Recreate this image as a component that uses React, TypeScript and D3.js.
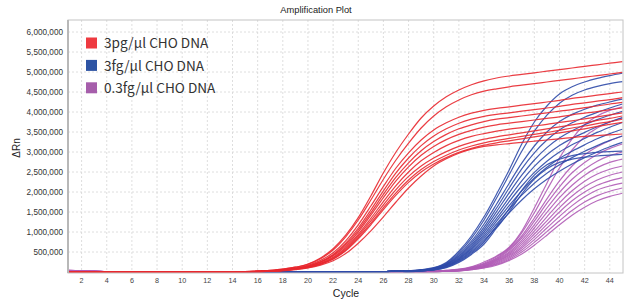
import * as d3 from "d3";
import { useEffect } from "react";

// qPCR cycles
const cycles = [1, 2, 3, 4, 5, 6, 7, 8, 9, 10, 11, 12, 13, 14, 15, 16, 17, 18, 19, 20, 21, 22, 23,
  24, 25, 26, 27, 28, 29, 30, 31, 32, 33, 34, 35, 36, 37, 38, 39, 40, 41, 42, 43, 44, 45];

// ΔRn per cycle, in units of 10,000
const redSeries = [
  [0, 0, 0, 0, 0, 0, 0, 0, 0, 0, 0, 0, 0, 0, 1, 2, 4, 7, 12, 20, 35, 58, 92, 136, 190, 248, 300, 345, 385, 415, 438, 455, 468, 478, 485, 490, 494, 498, 502, 506, 510, 514, 518, 522, 526],
  [0, 0, 0, 0, 0, 0, 0, 0, 0, 0, 0, 0, 0, 0, 1, 2, 4, 7, 12, 19, 33, 55, 88, 130, 180, 232, 280, 322, 360, 390, 413, 430, 443, 452, 458, 463, 467, 471, 475, 479, 483, 487, 491, 495, 499],
  [0, 0, 0, 0, 0, 0, 0, 0, 0, 0, 0, 0, 0, 0, 1, 2, 3, 6, 10, 17, 29, 48, 78, 118, 165, 214, 260, 298, 330, 355, 373, 387, 397, 404, 409, 413, 417, 421, 425, 429, 434, 438, 442, 446, 450],
  [0, 0, 0, 0, 0, 0, 0, 0, 0, 0, 0, 0, 0, 0, 1, 2, 3, 5, 9, 15, 26, 44, 72, 110, 155, 203, 248, 285, 316, 340, 358, 372, 382, 389, 394, 398, 402, 406, 410, 414, 419, 423, 427, 431, 436],
  [0, 0, 0, 0, 0, 0, 0, 0, 0, 0, 0, 0, 0, 0, 1, 2, 3, 5, 9, 15, 25, 42, 69, 105, 148, 194, 237, 273, 303, 326, 344, 358, 368, 376, 382, 386, 390, 394, 398, 402, 406, 411, 415, 420, 424],
  [0, 0, 0, 0, 0, 0, 0, 0, 0, 0, 0, 0, 0, 0, 1, 1, 3, 5, 8, 14, 24, 40, 65, 100, 142, 186, 228, 263, 292, 314, 331, 344, 354, 362, 368, 372, 376, 380, 384, 388, 393, 397, 401, 406, 410],
  [0, 0, 0, 0, 0, 0, 0, 0, 0, 0, 0, 0, 0, 0, 1, 1, 2, 4, 8, 13, 22, 37, 61, 94, 134, 176, 216, 250, 278, 299, 316, 329, 339, 346, 352, 357, 361, 365, 369, 374, 378, 383, 388, 393, 398],
  [0, 0, 0, 0, 0, 0, 0, 0, 0, 0, 0, 0, 0, 0, 1, 1, 2, 4, 7, 12, 21, 35, 58, 90, 128, 168, 206, 239, 265, 285, 301, 314, 324, 332, 338, 343, 348, 353, 358, 363, 368, 373, 379, 384, 390],
  [0, 0, 0, 0, 0, 0, 0, 0, 0, 0, 0, 0, 0, 0, 1, 1, 2, 4, 7, 12, 20, 33, 55, 86, 122, 161, 198, 230, 256, 276, 292, 305, 315, 323, 329, 334, 339, 344, 349, 354, 360, 365, 371, 376, 382],
  [0, 0, 0, 0, 0, 0, 0, 0, 0, 0, 0, 0, 0, 0, 1, 1, 2, 4, 7, 11, 19, 32, 53, 83, 118, 156, 192, 224, 250, 270, 286, 299, 309, 317, 323, 328, 333, 338, 343, 348, 353, 358, 364, 369, 374],
  [0, 0, 0, 0, 0, 0, 0, 0, 0, 0, 0, 0, 0, 0, 1, 1, 2, 3, 6, 10, 17, 28, 46, 72, 103, 138, 175, 210, 240, 265, 283, 297, 307, 314, 318, 321, 324, 327, 330, 333, 336, 339, 341, 343, 345],
];

const blueSeries = [
  [1, 1, 1, 0, 0, 0, 0, 0, 0, 0, 0, 0, 0, 0, 0, 0, 0, 0, 0, 1, 1, 1, 1, 1, 1, 1, 2, 3, 6, 11, 24, 52, 90, 138, 195, 255, 320, 375, 415, 445, 463, 475, 484, 491, 497],
  [1, 1, 1, 0, 0, 0, 0, 0, 0, 0, 0, 0, 0, 0, 0, 0, 0, 0, 0, 1, 1, 1, 1, 1, 1, 1, 2, 3, 5, 10, 22, 48, 84, 130, 185, 243, 302, 352, 392, 422, 442, 455, 464, 471, 476],
  [1, 1, 1, 0, 0, 0, 0, 0, 0, 0, 0, 0, 0, 0, 0, 0, 0, 0, 0, 1, 1, 1, 1, 1, 1, 1, 2, 2, 5, 9, 20, 44, 77, 120, 170, 222, 272, 315, 350, 376, 394, 407, 417, 425, 432],
  [1, 1, 1, 0, 0, 0, 0, 0, 0, 0, 0, 0, 0, 0, 0, 0, 0, 0, 0, 1, 1, 1, 1, 1, 1, 1, 2, 2, 4, 8, 19, 41, 72, 112, 160, 210, 258, 298, 330, 355, 373, 387, 399, 410, 420],
  [1, 1, 1, 0, 0, 0, 0, 0, 0, 0, 0, 0, 0, 0, 0, 0, 0, 0, 0, 1, 1, 1, 1, 1, 1, 1, 2, 2, 4, 8, 18, 39, 68, 106, 151, 198, 242, 280, 311, 335, 353, 368, 381, 392, 402],
  [1, 1, 1, 0, 0, 0, 0, 0, 0, 0, 0, 0, 0, 0, 0, 0, 0, 0, 0, 1, 1, 1, 1, 1, 1, 1, 2, 2, 4, 7, 17, 36, 64, 100, 142, 186, 228, 264, 293, 316, 334, 349, 363, 375, 386],
  [1, 1, 1, 0, 0, 0, 0, 0, 0, 0, 0, 0, 0, 0, 0, 0, 0, 0, 0, 1, 1, 1, 1, 1, 1, 1, 2, 2, 4, 7, 16, 34, 60, 94, 134, 176, 215, 249, 277, 300, 318, 334, 349, 362, 374],
  [1, 1, 1, 0, 0, 0, 0, 0, 0, 0, 0, 0, 0, 0, 0, 0, 0, 0, 0, 1, 1, 1, 1, 1, 1, 1, 2, 2, 3, 6, 15, 32, 57, 89, 127, 166, 203, 235, 262, 284, 302, 318, 333, 346, 357],
  [1, 1, 1, 0, 0, 0, 0, 0, 0, 0, 0, 0, 0, 0, 0, 0, 0, 0, 0, 1, 1, 1, 1, 1, 1, 1, 2, 1, 3, 6, 14, 30, 53, 84, 120, 157, 192, 222, 247, 268, 286, 302, 316, 329, 340],
  [1, 1, 1, 0, 0, 0, 0, 0, 0, 0, 0, 0, 0, 0, 0, 0, 0, 0, 0, 1, 1, 1, 1, 1, 1, 1, 2, 1, 3, 6, 13, 28, 50, 79, 113, 148, 180, 208, 232, 252, 270, 286, 300, 313, 324],
  [1, 1, 1, 0, 0, 0, 0, 0, 0, 0, 0, 0, 0, 0, 0, 0, 0, 0, 0, 1, 1, 1, 1, 1, 1, 1, 2, 1, 3, 5, 12, 26, 47, 75, 115, 158, 204, 242, 268, 282, 291, 296, 299, 301, 302],
  [1, 1, 1, 0, 0, 0, 0, 0, 0, 0, 0, 0, 0, 0, 0, 0, 0, 0, 0, 1, 1, 1, 1, 1, 1, 1, 2, 1, 3, 5, 11, 24, 44, 70, 110, 150, 195, 232, 258, 274, 282, 287, 290, 292, 294],
];

const purpleSeries = [
  [4, 3, 2, 1, 1, 0, 0, 0, 0, 0, 0, 0, 0, 0, 0, 0, 0, 0, 0, 0, 0, 0, 0, 0, 0, 0, 1, 1, 1, 2, 4, 7, 13, 25, 40, 62, 102, 160, 222, 285, 333, 368, 390, 404, 413],
  [4, 3, 2, 1, 1, 0, 0, 0, 0, 0, 0, 0, 0, 0, 0, 0, 0, 0, 0, 0, 0, 0, 0, 0, 0, 0, 1, 1, 1, 2, 4, 6, 12, 22, 38, 60, 98, 148, 205, 260, 305, 338, 360, 375, 385],
  [4, 3, 2, 1, 1, 0, 0, 0, 0, 0, 0, 0, 0, 0, 0, 0, 0, 0, 0, 0, 0, 0, 0, 0, 0, 0, 1, 1, 1, 2, 3, 6, 11, 20, 35, 57, 90, 135, 183, 228, 265, 293, 313, 328, 340],
  [3, 2, 2, 1, 1, 0, 0, 0, 0, 0, 0, 0, 0, 0, 0, 0, 0, 0, 0, 0, 0, 0, 0, 0, 0, 0, 1, 1, 1, 2, 3, 5, 10, 19, 33, 54, 85, 127, 172, 213, 248, 274, 294, 309, 320],
  [3, 2, 2, 1, 1, 0, 0, 0, 0, 0, 0, 0, 0, 0, 0, 0, 0, 0, 0, 0, 0, 0, 0, 0, 0, 0, 1, 1, 1, 1, 3, 5, 9, 17, 31, 50, 79, 118, 160, 199, 232, 257, 277, 291, 300],
  [3, 2, 2, 1, 1, 0, 0, 0, 0, 0, 0, 0, 0, 0, 0, 0, 0, 0, 0, 0, 0, 0, 0, 0, 0, 0, 1, 1, 1, 1, 3, 5, 9, 16, 29, 47, 74, 110, 149, 186, 217, 242, 261, 274, 282],
  [3, 2, 1, 1, 0, 0, 0, 0, 0, 0, 0, 0, 0, 0, 0, 0, 0, 0, 0, 0, 0, 0, 0, 0, 0, 0, 1, 1, 1, 1, 2, 4, 8, 15, 27, 44, 69, 102, 138, 173, 203, 227, 245, 257, 265],
  [3, 2, 1, 1, 0, 0, 0, 0, 0, 0, 0, 0, 0, 0, 0, 0, 0, 0, 0, 0, 0, 0, 0, 0, 0, 0, 1, 1, 1, 1, 2, 4, 8, 14, 25, 41, 64, 95, 128, 161, 190, 213, 230, 242, 250],
  [2, 2, 1, 1, 0, 0, 0, 0, 0, 0, 0, 0, 0, 0, 0, 0, 0, 0, 0, 0, 0, 0, 0, 0, 0, 0, 1, 1, 1, 1, 2, 4, 7, 13, 23, 38, 60, 88, 119, 150, 178, 200, 217, 228, 236],
  [2, 2, 1, 1, 0, 0, 0, 0, 0, 0, 0, 0, 0, 0, 0, 0, 0, 0, 0, 0, 0, 0, 0, 0, 0, 0, 1, 1, 1, 1, 2, 3, 7, 12, 21, 35, 55, 81, 110, 139, 166, 188, 205, 215, 222],
  [2, 1, 1, 0, 0, 0, 0, 0, 0, 0, 0, 0, 0, 0, 0, 0, 0, 0, 0, 0, 0, 0, 0, 0, 0, 0, 1, 1, 1, 1, 2, 3, 6, 11, 19, 32, 50, 74, 101, 128, 154, 175, 191, 202, 210],
  [2, 1, 1, 0, 0, 0, 0, 0, 0, 0, 0, 0, 0, 0, 0, 0, 0, 0, 0, 0, 0, 0, 0, 0, 0, 0, 1, 1, 1, 1, 2, 3, 6, 10, 17, 29, 45, 67, 92, 118, 142, 162, 178, 189, 197],
];

const xTicks = [2, 4, 6, 8, 10, 12, 14, 16, 18, 20, 22, 24, 26, 28, 30, 32, 34, 36, 38, 40, 42, 44];
const yTicks = [500000, 1000000, 1500000, 2000000, 2500000, 3000000, 3500000, 4000000, 4500000, 5000000, 5500000, 6000000];
const legendLabels = ["3pg/μl CHO DNA", "3fg/μl CHO DNA", "0.3fg/μl CHO DNA"];
const legendColors = ["#ee3a40", "#2e54a4", "#a65eab"];
const lineColors = ["#e8282f", "#2f4aa8", "#b05cb6"];

const W = 629;
const H = 303;
const left = 68;
const right = 623;
const top = 20;
const bottom = 273;

const x = d3.scaleLinear().domain([0.92, 45.05]).range([left, right]);
const y = d3.scaleLinear().domain([-25000, 6300000]).range([bottom, top]);
const fmt = d3.format(",");

const line = d3.line<number>()
  .x((_, i) => x(cycles[i]))
  .y((v) => y(v * 10000))
  .curve(d3.curveMonotoneX);

const App = () => {
  useEffect(() => {
    document.body.style.margin = "0";
  }, []);

  const groups = [purpleSeries, blueSeries, redSeries];
  const groupColors = [lineColors[2], lineColors[1], lineColors[0]];
  const axisFont = "'Liberation Sans', Arial, sans-serif";

  return (
    <svg width={W} height={H} style={{ display: "block", background: "#fff" }}>
      <defs>
        <clipPath id="plot-clip">
          <rect x={left} y={top} width={right - left} height={bottom - top} />
        </clipPath>
      </defs>

      <text x={316} y={13} textAnchor="middle" fontSize={9.3} fontFamily={axisFont} fill="#222">
        Amplification Plot
      </text>

      {/* grid */}
      <g stroke="#d6d6d6" strokeWidth={0.8} strokeDasharray="2,2">
        {xTicks.map((t) => (
          <line key={"gx" + t} x1={x(t)} x2={x(t)} y1={top} y2={bottom} />
        ))}
        {yTicks.map((t) => (
          <line key={"gy" + t} x1={left} x2={right} y1={y(t)} y2={y(t)} />
        ))}
      </g>

      {/* curves */}
      <g clipPath="url(#plot-clip)" fill="none" strokeWidth={1.2} strokeOpacity={0.9}>
        {groups.map((series, gi) =>
          series.map((vals, si) => (
            <path key={gi + "-" + si} d={line(vals) || ""} stroke={groupColors[gi]} />
          ))
        )}
      </g>

      {/* frame */}
      <rect x={left} y={top} width={right - left} height={bottom - top} fill="none" stroke="#c4c4c4" strokeWidth={1} />
      <line x1={left} x2={left} y1={top} y2={bottom} stroke="#b8b8b8" strokeWidth={2} />

      {/* y axis labels */}
      <g fontSize={8.2} fontFamily={axisFont} fill="#333" textAnchor="end">
        {yTicks.map((t) => (
          <text key={"yl" + t} x={63} y={y(t)} dy="0.33em">{fmt(t)}</text>
        ))}
      </g>

      {/* x axis labels */}
      <g fontSize={7.2} fontFamily={axisFont} fill="#444" textAnchor="middle">
        {xTicks.map((t) => (
          <text key={"xl" + t} x={x(t)} y={283}>{t}</text>
        ))}
      </g>

      <text x={346} y={297} textAnchor="middle" fontSize={10.5} fontFamily={axisFont} fill="#222">Cycle</text>
      <text transform="translate(20,148) rotate(-90)" textAnchor="middle" fontSize={10} fontFamily={axisFont} fill="#222">ΔRn</text>

      {/* legend */}
      <g fontFamily="'Noto Sans CJK SC', 'Noto Sans', sans-serif" fontSize={13.6} fill="#333">
        {legendLabels.map((label, i) => (
          <g key={label} transform={`translate(86,${37.5 + i * 22.4})`}>
            <rect width={11} height={11} fill={legendColors[i]} />
            <text x={18} y={10.8}>{label}</text>
          </g>
        ))}
      </g>
    </svg>
  );
};

export default App;
